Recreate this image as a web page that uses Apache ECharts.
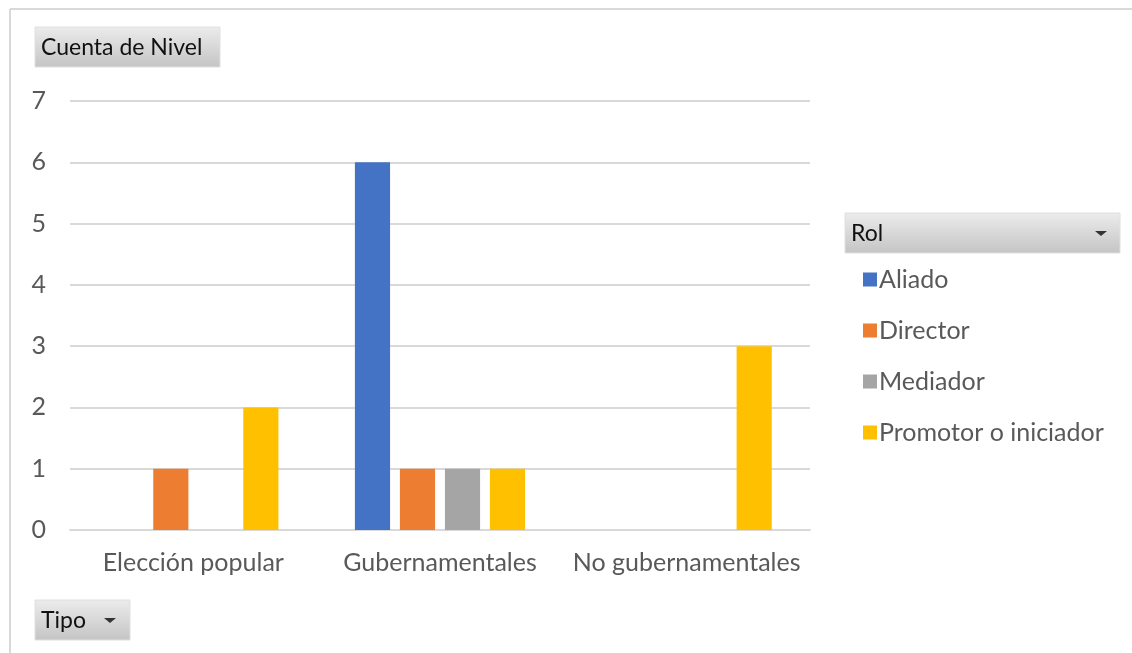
<!DOCTYPE html>
<html>
<head>
<meta charset="utf-8">
<script src="https://cdn.jsdelivr.net/npm/echarts@6/dist/echarts.min.js"></script>
<style>
html,body{margin:0;padding:0;background:#fff;}
#c{width:1132px;height:653px;}
</style>
</head>
<body>
<div id="c"></div>
<script>
const categories = ['Elección popular', 'Gubernamentales', 'No gubernamentales'];
const seriesNames = ['Aliado', 'Director', 'Mediador', 'Promotor o iniciador'];
const aliado = [null, 6, null];
const director = [1, 1, null];
const mediador = [null, 1, null];
const promotor = [2, 1, 3];
const seriesValues = [aliado, director, mediador, promotor];
const colors = ['#4472C4', '#ED7D31', '#A5A5A5', '#FFC000'];

const FONT = 'Lato, "Open Sans", sans-serif';
const chart = echarts.init(document.getElementById('c'), null, {renderer: 'canvas'});

function button(x, y, w, h, label, arrow) {
  const els = [{
    type: 'rect',
    shape: {x: x, y: y, width: w, height: h},
    style: {
      fill: new echarts.graphic.LinearGradient(0, 0, 0, 1, [
        {offset: 0, color: '#ececec'}, {offset: 1, color: '#c4c4c4'}
      ]),
      stroke: '#e0e0e0', lineWidth: 1
    }
  }, {
    type: 'text',
    style: {x: x + 6, y: y + h / 2 + 1, text: label, fill: '#111', font: '23px ' + FONT, textVerticalAlign: 'middle'}
  }];
  if (arrow) {
    els.push({
      type: 'polygon',
      shape: {points: [[arrow - 6, y + h / 2 - 2], [arrow + 6, y + h / 2 - 2], [arrow, y + h / 2 + 3]]},
      style: {fill: '#333'}
    });
  }
  return els;
}

const option = {
  backgroundColor: '#fff',
  color: colors,
  animation: false,
  grid: {left: 70, right: 322, top: 101, bottom: 123},
  legend: {
    orient: 'vertical',
    left: 858, top: 262,
    itemWidth: 14, itemHeight: 14, itemGap: 26,
    icon: 'rect',
    data: seriesNames,
    textStyle: {fontSize: 25, color: '#595959', fontFamily: FONT, padding: [0, 0, 0, -3]}
  },
  xAxis: {
    type: 'category',
    data: categories,
    axisLine: {lineStyle: {color: '#D9D9D9', width: 2}},
    axisTick: {show: false},
    axisLabel: {fontSize: 25, color: '#595959', fontFamily: FONT, margin: 20, interval: 0, hideOverlap: false}
  },
  yAxis: {
    type: 'value',
    min: 0, max: 7, interval: 1,
    axisLine: {show: false},
    axisTick: {show: false},
    splitLine: {lineStyle: {color: '#D9D9D9', width: 2}},
    axisLabel: {fontSize: 25, color: '#595959', fontFamily: FONT, margin: 24}
  },
  series: seriesNames.map((n, i) => ({
    name: n,
    type: 'bar',
    data: seriesValues[i],
    barGap: '28%',
    barCategoryGap: '31%'
  })),
  graphic: [
    {type: 'line', shape: {x1: 10, y1: 9, x2: 1132, y2: 9}, style: {stroke: '#d9d9d9', lineWidth: 2}},
    {type: 'line', shape: {x1: 10, y1: 9, x2: 10, y2: 653}, style: {stroke: '#d9d9d9', lineWidth: 2}},
    ...button(35, 27, 185, 40, 'Cuenta de Nivel', null),
    ...button(845, 213, 275, 40, 'Rol', 1101),
    ...button(35, 600, 95, 40, 'Tipo', 110)
  ]
};
chart.setOption(option);
</script>
</body>
</html>
